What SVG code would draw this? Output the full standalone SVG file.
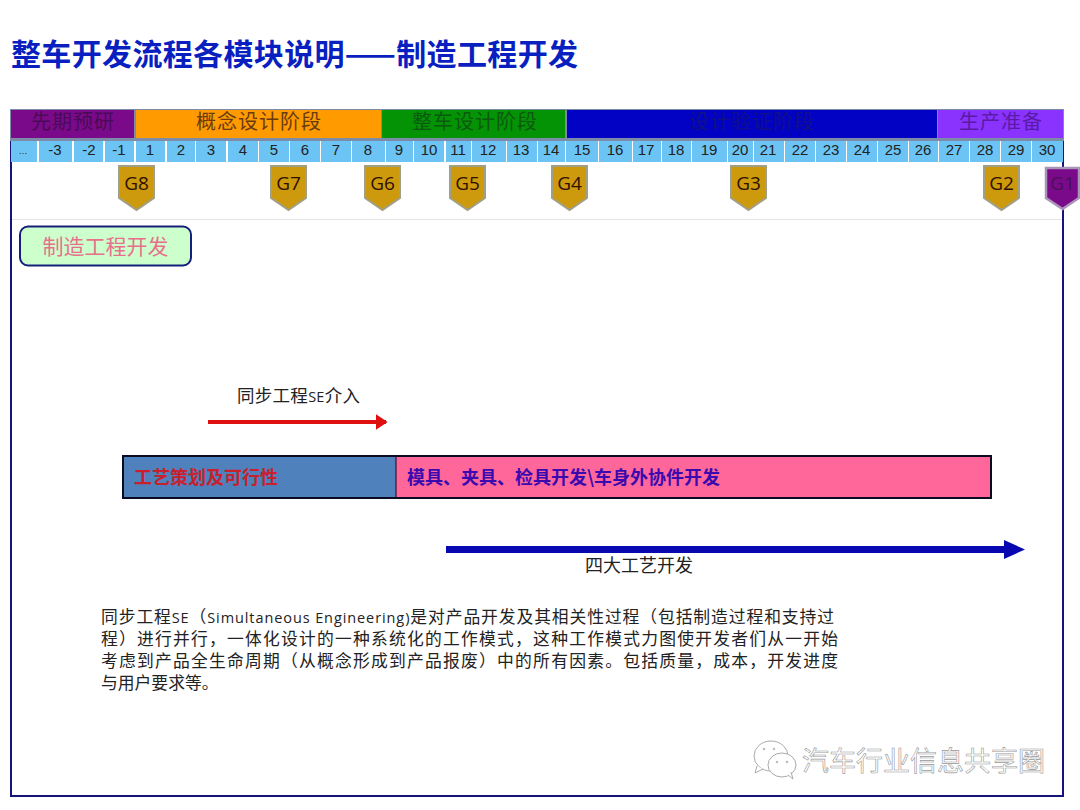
<svg xmlns="http://www.w3.org/2000/svg" width="1080" height="810" viewBox="0 0 1080 810">
<style>
text{font-family:"Noto Sans CJK SC","Liberation Sans",sans-serif}
.ph{font-size:20px;text-anchor:middle;letter-spacing:1px}
.t{font-family:"Liberation Sans",sans-serif;font-size:15px;fill:#222;text-anchor:middle}
.tk{fill:#6cc4f4}
.g{fill:#cc9a0c;stroke:#a0a088;stroke-width:2}
.gt{font-family:"Open Sans","Liberation Sans",sans-serif;font-size:19px;fill:#301000;text-anchor:middle}
.b{font-size:16.800px;fill:#222}
.l{font-family:"Open Sans","Liberation Sans",sans-serif;font-size:14.500px}
.w{font-size:27px;fill:#fff;stroke:#999;stroke-width:.6}
</style>
<defs>
<marker id="ar" markerWidth="3" markerHeight="4" refX="2.6" refY="2" orient="auto"><path d="M0 0L3 2L0 4Z" fill="#e01010"/></marker>
</defs>
<rect width="1080" height="810" fill="#fff"/>
<text x="11" y="65" font-size="30" font-weight="700" fill="#0a1fc0" textLength="567">整车开发流程各模块说明——制造工程开发</text>
<g id="frame"><rect x="11" y="110" width="1052" height="686" fill="#fff" stroke="#14147a" stroke-width="2"/><line x1="12" y1="219.500" x2="1062" y2="219.500" stroke="#e4e4e4"/></g>
<g id="phases">
<rect x="10" y="109" width="1054" height="32" fill="#7c8ca8"/>
<rect x="11" y="110" width="123" height="28" fill="#7a0a8a"/><text class="ph" x="73" y="129" fill="#4a0a58">先期预研</text>
<rect x="136" y="110" width="245" height="28" fill="#ff9a00"/><text class="ph" x="259" y="129" fill="#6a3a10">概念设计阶段</text>
<rect x="382" y="110" width="183" height="28" fill="#049304"/><text class="ph" x="475" y="129" fill="#0a5a10">整车设计阶段</text>
<rect x="567" y="110" width="370" height="28" fill="#0202c4"/><text class="ph" x="752" y="129" fill="#10108a">设计验证阶段</text>
<rect x="938" y="110" width="125" height="28" fill="#8a33ff"/><text class="ph" x="1001" y="129" fill="#5a1aa8">生产准备</text>
</g>
<g id="ticks">
<rect class="tk" x="11" y="141" width="26" height="21"/><text class="t" x="23" y="154" style="font-size:9px">…</text>
<rect class="tk" x="39" y="141" width="33" height="21"/><text class="t" x="55" y="154.500">-3</text>
<rect class="tk" x="74" y="141" width="29" height="21"/><text class="t" x="89" y="154.500">-2</text>
<rect class="tk" x="105" y="141" width="29" height="21"/><text class="t" x="119" y="154.500">-1</text>
<rect class="tk" x="136" y="141" width="29" height="21"/><text class="t" x="150" y="154.500">1</text>
<rect class="tk" x="167" y="141" width="28" height="21"/><text class="t" x="181" y="154.500">2</text>
<rect class="tk" x="196" y="141" width="30" height="21"/><text class="t" x="211" y="154.500">3</text>
<rect class="tk" x="228" y="141" width="30" height="21"/><text class="t" x="243" y="154.500">4</text>
<rect class="tk" x="259" y="141" width="30" height="21"/><text class="t" x="274" y="154.500">5</text>
<rect class="tk" x="290" y="141" width="30" height="21"/><text class="t" x="305" y="154.500">6</text>
<rect class="tk" x="321" y="141" width="30" height="21"/><text class="t" x="336" y="154.500">7</text>
<rect class="tk" x="352" y="141" width="33" height="21"/><text class="t" x="368" y="154.500">8</text>
<rect class="tk" x="386" y="141" width="27" height="21"/><text class="t" x="399" y="154.500">9</text>
<rect class="tk" x="414" y="141" width="30" height="21"/><text class="t" x="429" y="154.500">10</text>
<rect class="tk" x="446" y="141" width="25" height="21"/><text class="t" x="458" y="154.500">11</text>
<rect class="tk" x="472" y="141" width="34" height="21"/><text class="t" x="488" y="154.500">12</text>
<rect class="tk" x="507" y="141" width="30" height="21"/><text class="t" x="521" y="154.500">13</text>
<rect class="tk" x="538" y="141" width="27" height="21"/><text class="t" x="551" y="154.500">14</text>
<rect class="tk" x="566" y="141" width="32" height="21"/><text class="t" x="582" y="154.500">15</text>
<rect class="tk" x="599" y="141" width="33" height="21"/><text class="t" x="615" y="154.500">16</text>
<rect class="tk" x="633" y="141" width="28" height="21"/><text class="t" x="646" y="154.500">17</text>
<rect class="tk" x="662" y="141" width="29" height="21"/><text class="t" x="676" y="154.500">18</text>
<rect class="tk" x="692" y="141" width="35" height="21"/><text class="t" x="709" y="154.500">19</text>
<rect class="tk" x="728" y="141" width="25" height="21"/><text class="t" x="740" y="154.500">20</text>
<rect class="tk" x="754" y="141" width="30" height="21"/><text class="t" x="768" y="154.500">21</text>
<rect class="tk" x="785" y="141" width="30" height="21"/><text class="t" x="800" y="154.500">22</text>
<rect class="tk" x="816" y="141" width="30" height="21"/><text class="t" x="831" y="154.500">23</text>
<rect class="tk" x="847" y="141" width="30" height="21"/><text class="t" x="862" y="154.500">24</text>
<rect class="tk" x="878" y="141" width="30" height="21"/><text class="t" x="893" y="154.500">25</text>
<rect class="tk" x="909" y="141" width="29" height="21"/><text class="t" x="923" y="154.500">26</text>
<rect class="tk" x="939" y="141" width="30" height="21"/><text class="t" x="954" y="154.500">27</text>
<rect class="tk" x="970" y="141" width="30" height="21"/><text class="t" x="985" y="154.500">28</text>
<rect class="tk" x="1001" y="141" width="30" height="21"/><text class="t" x="1016" y="154.500">29</text>
<rect class="tk" x="1032" y="141" width="31" height="21"/><text class="t" x="1047" y="154.500">30</text>
</g>
<g id="G8"><path class="g" d="M119 166H154V198L136.500 210L119 198Z"/><text class="gt" x="136.500" y="190">G8</text></g>
<g id="G7"><path class="g" d="M271 166H306V198L288.500 210L271 198Z"/><text class="gt" x="288.500" y="190">G7</text></g>
<g id="G6"><path class="g" d="M365 166H400V198L382.500 210L365 198Z"/><text class="gt" x="382.500" y="190">G6</text></g>
<g id="G5"><path class="g" d="M450 166H485V198L467.500 210L450 198Z"/><text class="gt" x="467.500" y="190">G5</text></g>
<g id="G4"><path class="g" d="M552 166H587V198L569.500 210L552 198Z"/><text class="gt" x="569.500" y="190">G4</text></g>
<g id="G3"><path class="g" d="M731 166H766V198L748.500 210L731 198Z"/><text class="gt" x="748.500" y="190">G3</text></g>
<g id="G2"><path class="g" d="M984 166H1019V198L1001.500 210L984 198Z"/><text class="gt" x="1001.500" y="190">G2</text></g>
<g id="G1"><path d="M1046 168H1079V198L1062.500 209L1046 198Z" fill="#7a0a8a" stroke="#a896b8" stroke-width="2.500"/><text class="gt" x="1062.500" y="190" style="fill:#4a1058">G1</text></g>
<g id="module"><rect x="20" y="226.500" width="171" height="39" rx="8" fill="#ccffcc" stroke="#14207a" stroke-width="2"/><text x="105.500" y="254" font-size="21" fill="#e8708c" text-anchor="middle">制造工程开发</text></g>
<g id="bar-left"><rect x="123" y="456" width="273" height="42" fill="#4f81bd"/><text x="134" y="484" font-size="18" font-weight="700" fill="#c8202c">工艺策划及可行性</text></g>
<g id="bar-right"><rect x="396" y="456" width="595" height="42" fill="#ff6699"/><text x="407" y="484" font-size="18" font-weight="700" fill="#3a0ab0" textLength="313">模具、夹具、检具开发\车身外协件开发</text></g>
<rect x="123" y="456" width="868" height="42" fill="none" stroke="#0a0a20" stroke-width="2"/>
<line x1="396" y1="456" x2="396" y2="498" stroke="#0a0a20"/>
<g id="connectors">
<line x1="208" y1="422" x2="386" y2="422" stroke="#e01010" stroke-width="4" marker-end="url(#ar)"/>
<path d="M446 546H1004V540L1025 549.500L1004 559V553H446Z" fill="#0808b0"/>
</g>
<text x="237" y="402" font-size="17.500" fill="#222" textLength="123">同步工程<tspan class="l">SE</tspan>介入</text>
<text x="585" y="572" font-size="18" fill="#222">四大工艺开发</text>
<g id="description">
<text class="b" x="101" y="623" textLength="733">同步工程<tspan class="l">SE</tspan>（<tspan class="l">Simultaneous Engineering)</tspan>是对产品开发及其相关性过程（包括制造过程和支持过</text>
<text class="b" x="101" y="645" textLength="737">程）进行并行，一体化设计的一种系统化的工作模式，这种工作模式力图使开发者们从一开始</text>
<text class="b" x="101" y="667" textLength="737">考虑到产品全生命周期（从概念形成到产品报废）中的所有因素。包括质量，成本，开发进度</text>
<text class="b" x="101" y="689">与用户要求等。</text>
</g>
<g id="watermark" fill="#fff" stroke="#aaa" stroke-width="1">
<ellipse cx="771" cy="756" rx="17" ry="15"/><path d="M757 766L755 773L763 769" /><ellipse cx="782" cy="765" rx="14" ry="12"/><path d="M788 775L793 779L791 772"/>
<circle cx="764" cy="749" r=".8"/><circle cx="774" cy="749" r=".8"/><circle cx="777" cy="762" r=".8"/><circle cx="787" cy="762" r=".8"/>
</g>
<text class="w" x="802" y="771">汽车行业信息共享圈</text>
</svg>
